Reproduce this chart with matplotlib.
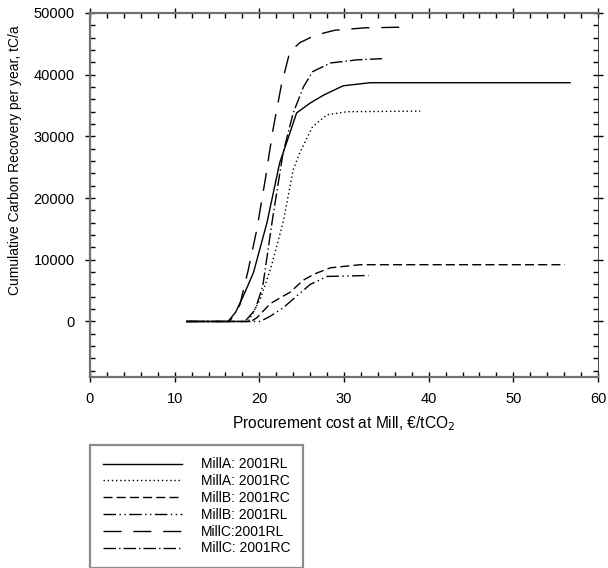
import matplotlib
matplotlib.use('Agg')
import matplotlib.pyplot as plt
from matplotlib.ticker import MultipleLocator

plt.rcParams['font.family'] = ['Liberation Sans', 'DejaVu Sans']

# Procurement cost (EUR/tCO2) vs cumulative carbon recovery (tC/a)
millA_rl_x = [11.4, 14.0, 16.3, 17.2, 18.1, 19.3, 20.9, 22.4, 23.6, 24.4, 26.0, 27.6, 29.9, 33.1, 56.7]
millA_rl_y = [0, 0, 0, 1500, 4100, 7900, 16000, 25700, 30500, 33800, 35400, 36700, 38200, 38700, 38700]

millA_rc_x = [11.4, 16.0, 18.7, 20.1, 21.3, 22.8, 24.0, 24.8, 26.3, 28.0, 30.4, 39.0]
millA_rc_y = [0, 0, 0, 3600, 8400, 16000, 24600, 27400, 31600, 33500, 34000, 34100]

millB_rc_x = [11.4, 19.0, 19.7, 21.3, 22.8, 23.6, 25.2, 26.5, 28.4, 31.9, 56.1]
millB_rc_y = [0, 0, 600, 2900, 4100, 4700, 6700, 7700, 8700, 9200, 9200]

millB_rl_x = [11.4, 20.1, 21.3, 22.8, 24.4, 26.0, 28.0, 32.9]
millB_rl_y = [0, 0, 860, 2200, 4100, 6000, 7300, 7450]

millC_rl_x = [11.4, 16.5, 17.7, 18.7, 19.7, 20.7, 21.6, 22.6, 23.6, 24.8, 26.6, 28.9, 32.5, 37.0]
millC_rl_y = [0, 0, 2700, 8400, 14900, 23000, 31000, 38300, 43700, 45200, 46400, 47200, 47600, 47700]

millC_rc_x = [11.4, 18.3, 19.5, 20.4, 21.6, 22.8, 24.0, 25.2, 26.3, 28.4, 31.5, 34.5]
millC_rc_y = [0, 0, 1900, 5700, 17000, 27300, 33800, 38000, 40500, 41900, 42400, 42600]

labels = ['MillA: 2001RL', 'MillA: 2001RC', 'MillB: 2001RC',
          'MillB: 2001RL', 'MillC:2001RL', 'MillC: 2001RC']

fig = plt.figure(figsize=(6.08, 5.68), dpi=100)
ax = fig.add_axes([90/608, 1-377/568, 508/608, 364/568])

series = [
    (millA_rl_x, millA_rl_y, '-'),
    (millA_rc_x, millA_rc_y, (0, (1, 2))),
    (millB_rc_x, millB_rc_y, (0, (6.5, 3))),
    (millB_rl_x, millB_rl_y, (0, (9, 2.5, 1, 2.5, 1, 2.5))),
    (millC_rl_x, millC_rl_y, (0, (13, 8.5))),
    (millC_rc_x, millC_rc_y, (0, (9, 2.2, 1, 2.2))),
]
for (x, y, ls), lab in zip(series, labels):
    ax.plot(x, y, color='black', linestyle=ls, linewidth=1.0, label=lab)

ax.set_xlim(0, 60)
ax.set_ylim(-9000, 50000)
ax.xaxis.set_major_locator(MultipleLocator(10))
ax.xaxis.set_minor_locator(MultipleLocator(2))
ax.yaxis.set_major_locator(MultipleLocator(10000))
ax.yaxis.set_minor_locator(MultipleLocator(2000))

ax.tick_params(which='major', direction='inout', length=7, width=1, labelsize=10.5,
               top=True, right=True, color='black')
ax.tick_params(which='minor', direction='in', length=3.5, width=1,
               top=True, right=True, color='black')
ax.tick_params(axis='x', pad=7)
ax.tick_params(axis='y', pad=7.5)

for side in ['left', 'bottom', 'top']:
    ax.spines[side].set_color('#707070')
    ax.spines[side].set_linewidth(1.6)
ax.spines['right'].set_color('#303030')
ax.spines['right'].set_linewidth(0.6)

ax.set_xlabel('Procurement cost at Mill, €/tCO$_2$', fontsize=11.2, labelpad=6)
ax.set_ylabel('Cumulative Carbon Recovery per year, tC/a', fontsize=10)
ax.yaxis.set_label_coords(-0.134, 0.596)

leg = fig.legend(loc='upper left', bbox_to_anchor=(90/608, 1-445/568),
                 fontsize=10, frameon=True, fancybox=False, handlelength=5.7,
                 handletextpad=1.4, labelspacing=0.2, borderpad=0.9,
                 borderaxespad=0)
leg.get_frame().set_edgecolor('#707070')
leg.get_frame().set_linewidth(1.6)

fig.savefig('out.png', dpi=100)
